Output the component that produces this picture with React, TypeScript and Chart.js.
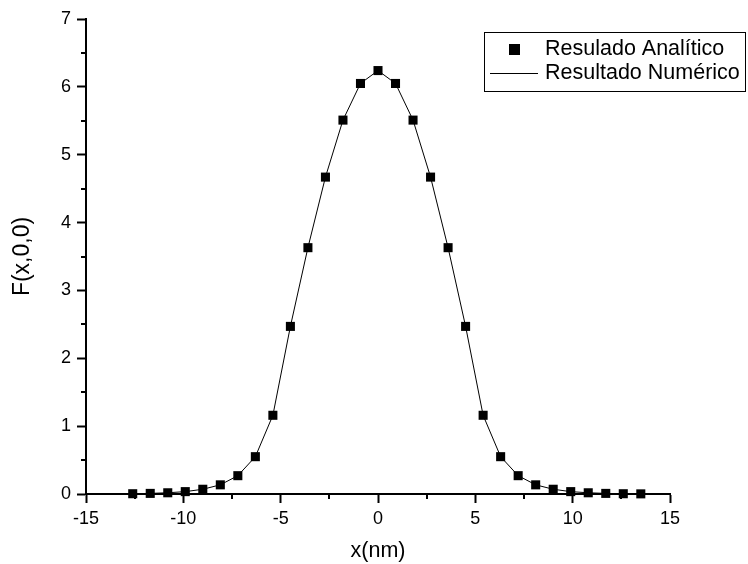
import React, { useEffect, useRef } from "react";
import { Chart, registerables } from "chart.js";

Chart.register(...registerables);

const xValues = [
  -12.6, -11.7, -10.8, -9.9, -9.0, -8.1, -7.2, -6.3, -5.4, -4.5, -3.6, -2.7, -1.8, -0.9,
  0, 0.9, 1.8, 2.7, 3.6, 4.5, 5.4, 6.3, 7.2, 8.1, 9.0, 9.9, 10.8, 11.7, 12.6, 13.5,
];
const analyticValues = [
  0.004, 0.009, 0.018, 0.035, 0.07, 0.135, 0.27, 0.55, 1.16, 2.47, 3.63, 4.67, 5.51, 6.05,
  6.24, 6.05, 5.51, 4.67, 3.63, 2.47, 1.16, 0.55, 0.27, 0.135, 0.07, 0.035, 0.018, 0.009, 0.004, 0.002,
];
const numericValues = [
  0.004, 0.009, 0.018, 0.035, 0.07, 0.135, 0.27, 0.55, 1.16, 2.47, 3.63, 4.67, 5.51, 6.05,
  6.24, 6.05, 5.51, 4.67, 3.63, 2.47, 1.16, 0.55, 0.27, 0.135, 0.07, 0.035, 0.018, 0.009, 0.004, 0.002,
];
const seriesLabels = ["Resulado Analítico", "Resultado Numérico"];
const xMinorTicks = [-12.5, -7.5, -2.5, 2.5, 7.5, 12.5];
const yMinorTicks = [0.5, 1.5, 2.5, 3.5, 4.5, 5.5, 6.5];

const FONT = "Arial, 'Liberation Sans', sans-serif";

const minorTicksPlugin = {
  id: "minorTicks",
  afterDraw(chart: any) {
    const ctx = chart.ctx;
    const xs = chart.scales.x;
    const ys = chart.scales.y;
    const area = chart.chartArea;
    ctx.save();
    ctx.strokeStyle = "#000";
    ctx.lineWidth = 2;
    ctx.beginPath();
    for (const v of xMinorTicks) {
      const px = Math.round(xs.getPixelForValue(v));
      ctx.moveTo(px, area.bottom);
      ctx.lineTo(px, area.bottom + 5);
    }
    for (const v of yMinorTicks) {
      const py = Math.round(ys.getPixelForValue(v));
      ctx.moveTo(area.left, py);
      ctx.lineTo(area.left - 5, py);
    }
    ctx.stroke();
    ctx.restore();
  },
};

const legendBoxPlugin = {
  id: "legendBox",
  afterDraw(chart: any) {
    const ctx = chart.ctx;
    ctx.save();
    ctx.fillStyle = "#fff";
    ctx.fillRect(484.5, 32.5, 261, 59);
    ctx.strokeStyle = "#000";
    ctx.lineWidth = 1;
    ctx.strokeRect(484.5, 32.5, 261, 59);
    ctx.fillStyle = "#000";
    ctx.fillRect(509, 44, 11, 11);
    ctx.beginPath();
    ctx.moveTo(490, 73.5);
    ctx.lineTo(538, 73.5);
    ctx.stroke();
    ctx.font = `21.5px ${FONT}`;
    ctx.textBaseline = "middle";
    ctx.textAlign = "left";
    ctx.fillText(seriesLabels[0], 545, 49);
    ctx.fillText(seriesLabels[1], 545, 73);
    ctx.restore();
  },
};

export default function App() {
  const ref = useRef<HTMLCanvasElement | null>(null);
  useEffect(() => {
    if (!ref.current) return;
    const chart = new Chart(ref.current, {
      type: "scatter",
      data: {
        datasets: [
          {
            label: seriesLabels[0],
            data: xValues.map((x, i) => ({ x, y: analyticValues[i] })),
            showLine: false,
            pointStyle: "rect",
            pointRadius: 6.4,
            pointHoverRadius: 6.4,
            pointBackgroundColor: "#000",
            pointBorderColor: "#000",
            pointBorderWidth: 0,
            clip: false as any,
          },
          {
            label: seriesLabels[1],
            data: xValues.map((x, i) => ({ x, y: numericValues[i] })),
            showLine: true,
            borderColor: "#000",
            borderWidth: 1,
            pointRadius: 0,
            tension: 0,
            clip: false as any,
          },
        ],
      },
      options: {
        animation: false,
        responsive: false,
        devicePixelRatio: 1,
        layout: { padding: { top: 19, right: 78, left: 0, bottom: 0 } },
        plugins: { legend: { display: false }, tooltip: { enabled: false } },
        scales: {
          x: {
            type: "linear",
            min: -15,
            max: 15,
            afterFit: (s: any) => {
              s.height = 70;
            },
            ticks: {
              stepSize: 5,
              color: "#000",
              padding: 5,
              font: { family: FONT, size: 18 },
              maxRotation: 0,
            },
            grid: {
              display: true,
              drawOnChartArea: false,
              drawTicks: true,
              tickLength: 9,
              tickWidth: 2,
              tickColor: "#000",
              color: "#000",
            },
            border: { display: true, color: "#000", width: 2 },
            title: {
              display: true,
              text: "x(nm)",
              color: "#000",
              font: { family: FONT, size: 21.5 },
              padding: { top: 0, bottom: 0 },
            },
          },
          y: {
            type: "linear",
            min: 0,
            max: 7,
            afterFit: (s: any) => {
              s.width = 86;
            },
            ticks: {
              stepSize: 1,
              color: "#000",
              padding: 6,
              font: { family: FONT, size: 18 },
            },
            grid: {
              display: true,
              drawOnChartArea: false,
              drawTicks: true,
              tickLength: 9,
              tickWidth: 2,
              tickColor: "#000",
              color: "#000",
            },
            border: { display: true, color: "#000", width: 2 },
            title: {
              display: true,
              text: "F(x,0,0)",
              color: "#000",
              font: { family: FONT, size: 23 },
              padding: { top: 9, bottom: 0 },
            },
          },
        },
      },
      plugins: [minorTicksPlugin, legendBoxPlugin],
    });
    return () => chart.destroy();
  }, []);
  return (
    <div style={{ position: "absolute", left: 0, top: 0, width: 748, height: 564, background: "#fff" }}>
      <canvas ref={ref} width={748} height={564} />
    </div>
  );
}
